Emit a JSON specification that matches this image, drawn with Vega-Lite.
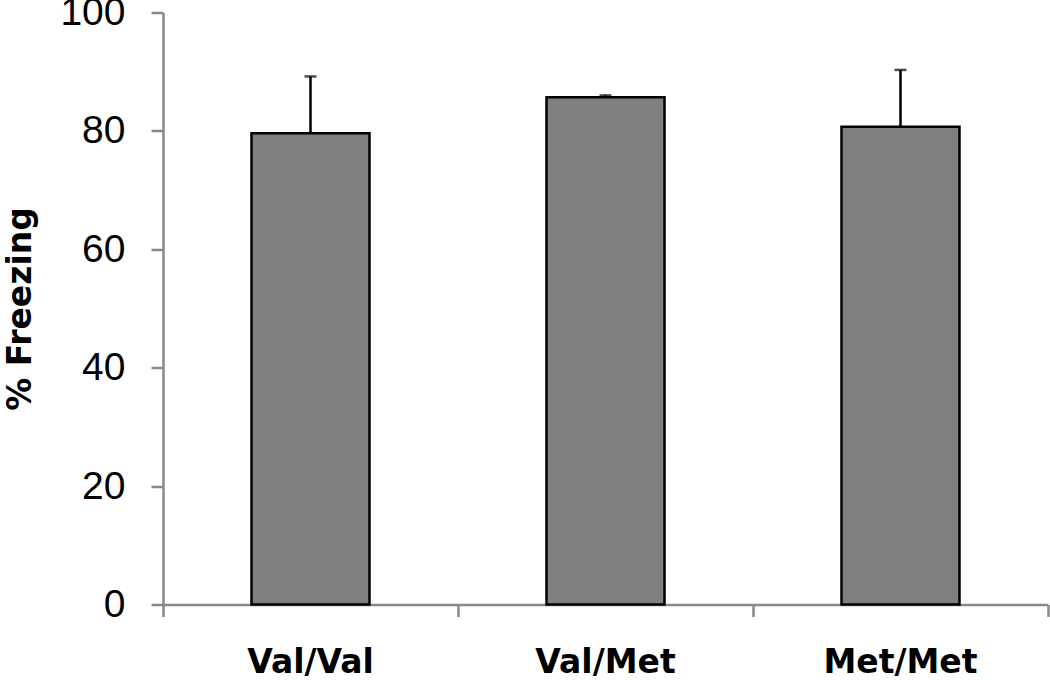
{
  "$schema": "https://vega.github.io/schema/vega-lite/v6.json",
  "width": 885,
  "height": 592,
  "autosize": "none",
  "padding": {"left": 163, "top": 12.5, "right": 2, "bottom": 75.5},
  "background": "white",
  "config": {"view": {"stroke": null}},
  "data": {
    "values": [
      {"group": "Val/Val", "freezing": 79.6, "upper": 89.2},
      {"group": "Val/Met", "freezing": 85.7, "upper": 86.0},
      {"group": "Met/Met", "freezing": 80.7, "upper": 90.3}
    ]
  },
  "layer": [
    {
      "encoding": {
        "x": {
          "field": "group",
          "type": "nominal",
          "sort": ["Val/Val", "Val/Met", "Met/Met"],
          "scale": {"paddingInner": 0.6, "paddingOuter": 0.3},
          "axis": {
            "title": null,
            "orient": "bottom",
            "labelAngle": 0,
            "ticks": false,
            "domainColor": "#898989",
            "domainWidth": 2.5,
            "labelFont": "DejaVu Sans",
            "labelFontWeight": "bold",
            "labelFontSize": 33,
            "labelColor": "black",
            "labelPadding": 42,
            "labelBaseline": "top"
          }
        }
      },
      "layer": [
        {
          "mark": {"type": "bar", "color": "#7f7f7f", "stroke": "black", "strokeWidth": 2.5},
          "encoding": {
            "y": {
              "field": "freezing",
              "type": "quantitative",
              "scale": {"domain": [0, 100], "nice": false},
              "axis": {
                "title": "% Freezing",
                "values": [0, 20, 40, 60, 80, 100],
                "grid": false,
                "domainColor": "#898989",
                "domainWidth": 2.5,
                "tickColor": "#898989",
                "tickWidth": 2.5,
                "tickSize": 12,
                "labelFont": "Liberation Sans",
                "labelFontSize": 39,
                "labelColor": "black",
                "labelPadding": 26,
                "titleFont": "DejaVu Sans",
                "titleFontWeight": "bold",
                "titleFontSize": 33,
                "titleColor": "black",
                "titlePadding": 22
              }
            }
          }
        },
        {
          "mark": {"type": "rule", "color": "black", "strokeWidth": 2.5},
          "encoding": {
            "y": {"field": "freezing", "type": "quantitative"},
            "y2": {"field": "upper"}
          }
        },
        {
          "mark": {"type": "tick", "color": "black", "size": 12, "thickness": 2.5, "orient": "horizontal"},
          "encoding": {
            "y": {"field": "upper", "type": "quantitative"}
          }
        }
      ]
    },
    {
      "mark": {"type": "rule", "opacity": 0},
      "encoding": {
        "x": {
          "datum": 0,
          "type": "quantitative",
          "scale": {"domain": [0, 3], "nice": false, "zero": false},
          "axis": {
            "title": null,
            "orient": "bottom",
            "values": [0, 1, 2, 3],
            "labels": false,
            "domain": false,
            "grid": false,
            "tickColor": "#898989",
            "tickWidth": 2.5,
            "tickSize": 12
          }
        }
      }
    }
  ],
  "resolve": {"scale": {"x": "independent"}, "axis": {"x": "independent"}}
}
